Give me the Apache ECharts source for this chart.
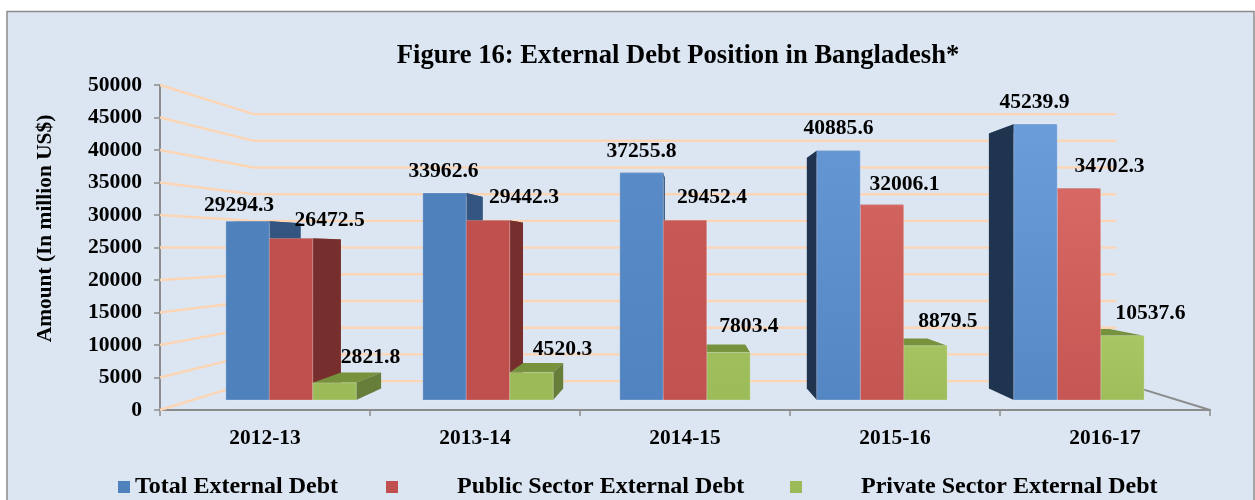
<!DOCTYPE html>
<html>
<head>
<meta charset="utf-8">
<title>Figure 16</title>
<style>
  html, body { margin: 0; padding: 0; background: #fff; }
  #chart { width: 1255px; height: 500px; }
</style>
<script src="https://cdn.jsdelivr.net/npm/echarts@6/dist/echarts.min.js"></script>
</head>
<body>
<div id="chart"></div>
<script>
  const years = ['2012-13', '2013-14', '2014-15', '2015-16', '2016-17'];
  const totalDebt = [29294.3, 33962.6, 37255.8, 40885.6, 45239.9];
  const publicDebt = [26472.5, 29442.3, 29452.4, 32006.1, 34702.3];
  const privateDebt = [2821.8, 4520.3, 7803.4, 8879.5, 10537.6];
  const yTicks = [0, 5000, 10000, 15000, 20000, 25000, 30000, 35000, 40000, 45000, 50000];

  // label offsets from the top centre of each bar, they were hand placed in the original
  const totalLabelShift = [[-8.5, -16.2], [-1, -21.5], [0, -21.2], [0, -22.2], [-1, -21.5]];
  const publicLabelShift = [[38.6, -18.2], [36, -22.8], [27, -22.5], [22.5, -20.8], [30.6, -21.8]];
  const privateLabelShift = [[36, -25.5], [31, -23.2], [20.5, -26.1], [22.5, -24.2], [28, -22.2]];

  // the fake 3d: everything shrinks towards one vanishing point
  const VP_X = 685;
  const VP_Y = 248;
  const WALL_DEPTH = 0.8215;
  const BAR_FRONT = 0.938;
  const BAR_BACK = 0.867;
  const BAR_WIDTH_RATIO = 139 / 210 / 3;

  const FONT = '"Liberation Serif", "Times New Roman", serif';
  const shadeTop = [0, 0, 0.3, 0.65, 0.85];

  function project(p, s) {
    return [VP_X + s * (p[0] - VP_X), VP_Y + s * (p[1] - VP_Y)];
  }

  function wallItem(params, api) {
    const grid = params.coordSys;
    const y = api.coord([0, api.value(0)])[1];
    const front = [grid.x, y];
    const back = project(front, WALL_DEPTH);
    const backEnd = project([grid.x + grid.width, y], WALL_DEPTH);
    return {
      type: 'polyline',
      shape: { points: [front, back, backEnd] },
      style: { fill: null, stroke: '#fcd5b5', lineWidth: 2.4 }
    };
  }

  function floorEdgeItem(params) {
    const grid = params.coordSys;
    const corner = [grid.x + grid.width, grid.y + grid.height];
    return {
      type: 'line',
      shape: {
        x1: corner[0], y1: corner[1],
        x2: project(corner, WALL_DEPTH)[0], y2: project(corner, WALL_DEPTH)[1]
      },
      style: { stroke: '#8c8c8c', lineWidth: 2 }
    };
  }

  function barRenderer(slot, look, labelShift) {
    return function (params, api) {
      const i = api.value(0);
      const value = api.value(1);
      const top = api.coord([i, value]);
      const base = api.coord([i, 0]);
      const w = api.size([1, 0])[0] * BAR_WIDTH_RATIO;
      const x0 = top[0] + (slot - 1.5) * w;
      const x1 = x0 + w;

      const fl = project([x0, top[1]], BAR_FRONT);
      const fr = project([x1, top[1]], BAR_FRONT);
      const fbl = project([x0, base[1]], BAR_FRONT);
      const fbr = project([x1, base[1]], BAR_FRONT);
      const bl = project([x0, top[1]], BAR_BACK);
      const br = project([x1, top[1]], BAR_BACK);
      const bbl = project([x0, base[1]], BAR_BACK);
      const bbr = project([x1, base[1]], BAR_BACK);

      const centre = (fl[0] + fr[0]) / 2;
      const z = Math.round(700 - Math.abs(centre - VP_X));
      const sideColor = look.side[i];
      const children = [{
        type: 'polygon',
        z2: z,
        shape: { points: [fl, fr, br, bl] },
        style: { fill: look.top }
      }];
      if (fr[0] < VP_X) {
        children.push({
          type: 'polygon',
          z2: z + 1,
          shape: { points: [fr, br, bbr, fbr] },
          style: { fill: sideColor }
        });
      } else if (fl[0] > VP_X) {
        children.push({
          type: 'polygon',
          z2: z + 1,
          shape: { points: [fl, bl, bbl, fbl] },
          style: { fill: sideColor }
        });
      }
      children.push({
        type: 'polygon',
        z2: z + 2,
        shape: { points: [fl, fr, fbr, fbl] },
        style: {
          fill: new echarts.graphic.LinearGradient(0, 0, 0, 1, [
            { offset: 0, color: echarts.color.lerp(shadeTop[i], [look.front, look.bright]) },
            { offset: 1, color: echarts.color.lerp(shadeTop[i] / 4, [look.front, look.bright]) }
          ]),
          stroke: 'rgba(255,255,255,0.22)',
          lineWidth: 1
        }
      });
      children.push({
        type: 'text',
        z2: 2000,
        style: {
          x: centre + labelShift[i][0],
          y: fl[1] + labelShift[i][1],
          text: value.toFixed(1),
          fill: '#000',
          font: 'bold 21.6px ' + FONT,
          align: 'center',
          verticalAlign: 'middle'
        }
      });
      return { type: 'group', children: children };
    };
  }

  function barSeries(name, values, slot, look, labelShift) {
    return {
      name: name,
      type: 'custom',
      z: 3,
      clip: false,
      itemStyle: { color: look.front },
      renderItem: barRenderer(slot, look, labelShift),
      encode: { x: 0, y: 1 },
      data: values.map(function (v, i) { return [i, v]; })
    };
  }

  function legendFor(name, left, gap) {
    return {
      data: [name],
      left: left,
      top: 475,
      padding: 0,
      icon: 'rect',
      itemWidth: 12,
      itemHeight: 12,
      textStyle: {
        fontFamily: FONT,
        fontWeight: 'bold',
        fontSize: 24,
        color: '#000',
        padding: [0, 0, 0, gap]
      }
    };
  }

  const chart = echarts.init(document.getElementById('chart'));
  chart.setOption({
    animation: false,
    backgroundColor: '#fff',
    textStyle: { fontFamily: FONT },
    graphic: [{
      type: 'rect',
      z: -10,
      shape: { x: 7, y: 11.5, width: 1247, height: 500 },
      style: { fill: '#dce6f2', stroke: '#8c8c8c', lineWidth: 1.5 }
    }],
    title: {
      text: 'Figure 16: External Debt Position in Bangladesh*',
      left: 673,
      top: 38,
      textAlign: 'center',
      textStyle: { fontFamily: FONT, fontWeight: 'bold', fontSize: 26.6, color: '#000' }
    },
    legend: [
      legendFor('Total External Debt', 118, 0),
      legendFor('Public Sector External Debt', 386, 54),
      legendFor('Private Sector External Debt', 790, 54)
    ],
    grid: { left: 160, top: 85, width: 1050, height: 325 },
    xAxis: {
      type: 'category',
      data: years,
      axisLine: { lineStyle: { color: '#8c8c8c', width: 2 } },
      axisTick: { show: true, length: 6, lineStyle: { color: '#8c8c8c', width: 1.5 } },
      axisLabel: { color: '#000', fontFamily: FONT, fontWeight: 'bold', fontSize: 21.4, margin: 18 }
    },
    yAxis: {
      type: 'value',
      min: 0,
      max: 50000,
      interval: 5000,
      name: 'Amount (In million US$)',
      nameLocation: 'middle',
      nameGap: 104,
      nameTextStyle: {
        color: '#000',
        fontFamily: FONT,
        fontWeight: 'bold',
        fontSize: 21.4,
        padding: [0, 0, 0, 38]
      },
      axisLine: { show: true, lineStyle: { color: '#8c8c8c', width: 2 } },
      axisTick: { show: true, length: 6, lineStyle: { color: '#8c8c8c', width: 1.5 } },
      axisLabel: {
        color: '#000',
        fontFamily: FONT,
        fontWeight: 'bold',
        fontSize: 21.6,
        margin: 18,
        formatter: function (v) { return String(v); }
      },
      splitLine: { show: false }
    },
    series: [
      {
        type: 'custom',
        z: 1,
        clip: false,
        silent: true,
        renderItem: wallItem,
        encode: { y: 0 },
        data: yTicks.map(function (v) { return [v]; })
      },
      {
        type: 'custom',
        z: 1,
        clip: false,
        silent: true,
        renderItem: floorEdgeItem,
        data: [[0]]
      },
      barSeries('Total External Debt', totalDebt, 0, {
        front: '#4f81bd',
        bright: '#70a2e0',
        top: '#34557f',
        side: ['#34557f', '#34557f', '#34557f', '#1f344f', '#1f344f']
      }, totalLabelShift),
      barSeries('Public Sector External Debt', publicDebt, 1, {
        front: '#c0504d',
        bright: '#dc6c67',
        top: '#772f2d',
        side: ['#772f2d', '#772f2d', '#772f2d', '#772f2d', '#772f2d']
      }, publicLabelShift),
      barSeries('Private Sector External Debt', privateDebt, 2, {
        front: '#9bbb59',
        bright: '#a9c966',
        top: '#76923c',
        side: ['#677e3a', '#677e3a', '#677e3a', '#677e3a', '#677e3a']
      }, privateLabelShift)
    ]
  });
</script>
</body>
</html>
